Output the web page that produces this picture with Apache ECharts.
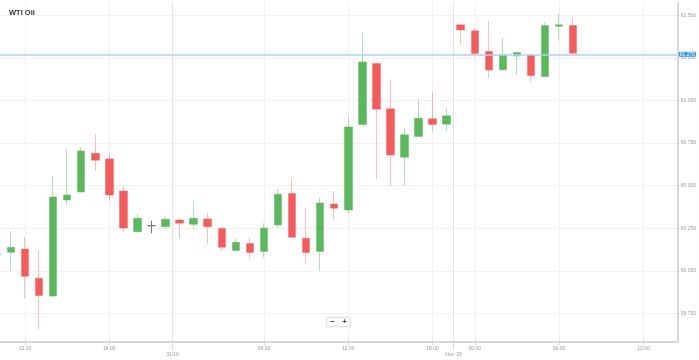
<!DOCTYPE html>
<html>
<head>
<meta charset="utf-8">
<script src="https://cdn.jsdelivr.net/npm/echarts@6/dist/echarts.min.js"></script>
<style>html,body{margin:0;padding:0;background:#fff}#c{width:699px;height:360px}</style>
</head>
<body>
<div id="c"></div>
<script>
// hourly candles, index 0..41 (weekend gap removed)
var opens  = [60.095,60.110,60.129,59.957,59.853,60.416,60.463,60.690,60.657,60.469,60.230,60.266,60.260,60.299,60.274,60.305,60.250,60.121,60.162,60.115,60.270,60.454,60.192,60.115,60.393,60.358,60.859,61.217,60.951,60.667,60.789,60.892,60.861,61.443,61.408,61.287,61.180,61.260,61.267,61.140,61.435,61.439];
var closes = [60.100,60.139,59.969,59.857,60.434,60.446,60.704,60.650,60.446,60.252,60.309,60.266,60.303,60.280,60.309,60.260,60.139,60.168,60.109,60.252,60.450,60.198,60.109,60.399,60.368,60.845,61.226,60.949,60.680,60.799,60.896,60.859,60.910,61.413,61.275,61.178,61.267,61.281,61.146,61.439,61.443,61.276];
var lows   = [60.090,60.000,59.840,59.660,59.850,60.390,60.460,60.590,60.410,60.230,60.230,60.221,60.248,60.192,60.250,60.160,60.120,60.120,60.070,60.080,60.254,60.198,60.045,60.000,60.300,60.340,60.859,60.540,60.496,60.500,60.789,60.820,60.820,61.326,61.252,61.131,61.180,61.150,61.111,61.140,61.349,61.276];
var highs  = [60.105,60.235,60.200,60.121,60.557,60.717,60.724,60.800,60.690,60.500,60.336,60.295,60.320,60.309,60.410,60.340,60.260,60.192,60.198,60.280,60.480,60.540,60.370,60.430,60.469,60.904,61.396,61.223,61.125,60.836,61.009,61.048,60.951,61.452,61.424,61.465,61.368,61.281,61.267,61.457,61.507,61.484];

var hourTickPos    = [2, 8, 19, 25, 31, 34, 40, 46];
var hourTickLabels = ['12:00', '18:00', '06:00', '12:00', '18:00', '00:00', '06:00', '12:00'];
var dateTickPos    = [12.5, 32.5];
var dateTickLabels = ['31/10', "Nov '25"];
var yTicks = [59.75, 60.00, 60.25, 60.50, 60.75, 61.00, 61.25, 61.50];
var lastPrice = 61.274;

var candles = opens.map(function (o, i) { return [i, o, closes[i], lows[i], highs[i]]; });

var chart = echarts.init(document.getElementById('c'), null, { renderer: 'canvas' });
var FONT = 'Liberation Sans, Arial, sans-serif';
chart.setOption({
  animation: false,
  backgroundColor: '#fff',
  title: {
    text: 'WTI Oil', left: 4, top: 4,
    textStyle: { fontSize: 7.5, fontWeight: 'bold', color: '#333', fontFamily: FONT }
  },
  grid: { left: 0, right: 20, top: 2, bottom: 18 },
  xAxis: [{
    type: 'value', min: 0.22, max: 48.44,
    axisLine: { show: true, lineStyle: { color: '#ccc', width: 1.5 } },
    axisTick: { show: true, length: 3, lineStyle: { color: '#ccc' }, customValues: hourTickPos },
    axisLabel: {
      customValues: hourTickPos, margin: 4, fontSize: 5, color: '#999', fontFamily: FONT,
      formatter: function (v) { var k = hourTickPos.indexOf(v); return k >= 0 ? hourTickLabels[k] : ''; }
    },
    splitLine: { show: true, lineStyle: { color: '#f0f0f0', width: 1 } }
  }, {
    type: 'value', min: 0.22, max: 48.44, position: 'bottom',
    axisLine: { show: false },
    axisTick: { show: true, length: 7, lineStyle: { color: '#bbb', type: [1, 1] }, customValues: dateTickPos },
    axisLabel: {
      customValues: dateTickPos, margin: 10, fontSize: 5, color: '#999', fontFamily: FONT,
      formatter: function (v) { var k = dateTickPos.indexOf(v); return k >= 0 ? dateTickLabels[k] : ''; }
    },
    splitLine: { show: true, lineStyle: { color: '#e2e2e2', width: 1 } }
  }],
  yAxis: {
    type: 'value', position: 'right', min: 59.584, max: 61.577, scale: true,
    axisLine: { show: true, lineStyle: { color: '#ccc', width: 1.5 } },
    axisTick: { show: true, length: 2, lineStyle: { color: '#ccc' }, customValues: yTicks },
    axisLabel: {
      customValues: yTicks, margin: 3, fontSize: 5, color: '#999', fontFamily: FONT,
      formatter: function (v) { return v.toFixed(3); }
    },
    splitLine: { show: true, lineStyle: { color: '#f2f2f2', width: 1 } }
  },
  series: [{
    type: 'candlestick',
    xAxisIndex: 0,
    data: candles,
    encode: { x: 0, y: [1, 2, 3, 4] },
    barWidth: 8,
    itemStyle: {
      color: '#5cb85c', color0: '#f65b5b',
      borderColor: 'rgba(92,184,92,0.45)', borderColor0: 'rgba(246,91,91,0.4)',
      borderColorDoji: '#777', borderWidth: 1
    },
    markLine: {
      symbol: 'none', silent: true,
      lineStyle: { color: '#a8d4f2', width: 1.5, type: 'solid' },
      label: {
        show: true, position: 'end', distance: 1,
        formatter: function (p) { return p.value.toFixed(3); },
        backgroundColor: '#2d9be8', color: '#fff', fontSize: 5, padding: [0, 1], fontFamily: FONT,
        borderRadius: 1
      },
      data: [{ yAxis: lastPrice }]
    }
  }],
  graphic: [{
    type: 'group', left: 326, top: 317,
    children: [
      { type: 'rect', shape: { x: 0, y: 0, width: 24, height: 9, r: 1 },
        style: { fill: '#fff', stroke: '#e4e4e4', lineWidth: 1, shadowBlur: 2, shadowColor: 'rgba(0,0,0,0.12)' } },
      { type: 'text', style: { text: '−', x: 6, y: 4.5, fill: '#444', fontSize: 8, fontWeight: 'bold', align: 'center', verticalAlign: 'middle', fontFamily: FONT } },
      { type: 'text', style: { text: '+', x: 18, y: 4.5, fill: '#444', fontSize: 8, fontWeight: 'bold', align: 'center', verticalAlign: 'middle', fontFamily: FONT } }
    ]
  }]
});
</script>
</body>
</html>
